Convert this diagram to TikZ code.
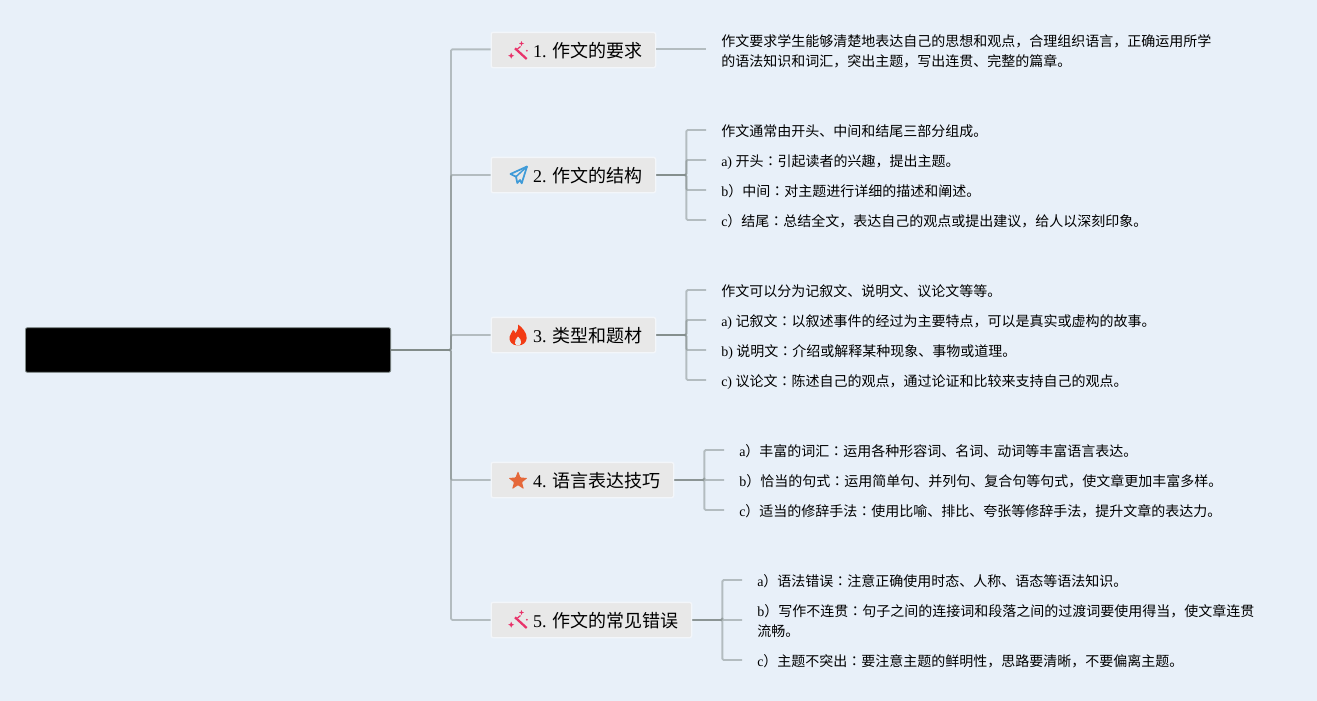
\documentclass[tikz,border=0pt]{standalone}
\usepackage{fontspec}
\setmainfont{Liberation Serif}
\newfontfamily\cjk{Noto Sans CJK SC}
\newfontfamily\cjktc{Noto Sans CJK TC}
\newcommand{\zh}[1]{{\cjk #1}}
\newcommand{\cln}{{\cjktc ：}}
\definecolor{bgblue}{HTML}{E8F0F9}
\definecolor{boxgray}{HTML}{E8E8E8}
\definecolor{boxedge}{HTML}{F3F6FA}
\definecolor{linegray}{HTML}{808A88}
\definecolor{wandpink}{HTML}{E8326A}
\definecolor{planeblue}{HTML}{3F9BD8}
\definecolor{flamered}{HTML}{F23B14}
\definecolor{starorange}{HTML}{E5683A}
\tikzset{x=.75pt,y=-.75pt,
root/.style={fill=black,draw=linegray,line width=.6pt,rounded corners=1.5pt,minimum width=274pt,minimum height=33.5pt,anchor=west,inner sep=0pt},
topic/.style={fill=boxgray,draw=boxedge,line width=1pt,rounded corners=1.5pt,minimum height=26.5pt,inner xsep=9.75pt,inner ysep=0pt,anchor=west,text height=11.6pt,text depth=0pt,font=\fontsize{13.5}{16}\selectfont},
leaf/.style={anchor=west,align=left,inner xsep=11.25pt,inner ysep=0pt,font=\fontsize{10.5}{15}\selectfont},
leafline/.style={leaf,text height=9.5pt,text depth=1pt},
branch/.style={draw=linegray,draw opacity=.5,line width=1.4pt,rounded corners=1pt},
wandicon/.pic={\draw[wandpink,line width=1.7pt] (-3,-2.7)--(8.7,8);\draw[wandpink,line width=.9pt] (2.5,-4.5)--(-.5,-2);
\fill[wandpink] (3.5,-10)--(4.2,-8.2)--(6,-7.5)--(4.2,-6.8)--(3.5,-5)--(2.8,-6.8)--(1,-7.5)--(2.8,-8.2)--cycle;\fill[wandpink] (8.8,-.3) circle(1);\fill[wandpink] (-6.8,1.7)--(-5.9,3.8)--(-3.8,4.7)--(-5.9,5.6)--(-6.8,7.7)--(-7.7,5.6)--(-9.8,4.7)--(-7.7,3.8)--cycle;},
planeicon/.pic={\draw[planeblue,line width=1.3pt,line join=round] (9,-8.5)--(-7.5,-1)--(-2,1.7)--(-.7,8)--(2,5)--(3.7,8.3)--cycle;\draw[planeblue,line width=1.1pt] (9,-8.5)--(-2,1.7);},
flameicon/.pic={\fill[flamered] (0,10.5) .. controls (-6,10.5) and (-9,6.5) .. (-8.5,2) .. controls (-8,-1) and (-6,-2) .. (-5,-5) .. controls (-3,-3.5) and (-2.5,-2.5) .. (-2.5,-1.5) .. controls (-1,-4) and (1,-7) .. (0,-10.5) .. controls (4,-8) and (9,-2) .. (8.7,3) .. controls (8.5,7.5) and (5,10.5) .. (0,10.5)--cycle;
\fill[boxgray] (0,10.5) .. controls (-3,10) and (-4,7) .. (-2.5,5) .. controls (-1.5,4) and (-.5,3) .. (0,1.5) .. controls (2,3.5) and (4,6) .. (3,8) .. controls (2.5,9.5) and (1.5,10.5) .. (0,10.5)--cycle;},
staricon/.pic={\fill[starorange,rounded corners=.6pt] (0,-10)--(2.5,-3.4)--(9.5,-3.1)--(4,1.3)--(5.9,8.1)--(0,4.2)--(-5.9,8.1)--(-4,1.3)--(-9.5,-3.1)--(-2.5,-3.4)--cycle;}}
\begin{document}
\begin{tikzpicture}
\useasboundingbox (0,0) rectangle (1317,700);\fill[bgblue] (-2,-2) rectangle (1319,702);
\node[root] (hub) at (25,350){};\coordinate (trunk) at (451,350);
\node[topic] (t1) at (490.5,50){\hspace{21.75pt}1. \zh{作文的要求}};
\node[topic] (t2) at (490.5,175){\hspace{21.75pt}2. \zh{作文的结构}};
\node[topic] (t3) at (490.5,335){\hspace{21.75pt}3. \zh{类型和题材}};
\node[topic] (t4) at (490.5,480){\hspace{21.75pt}4. \zh{语言表达技巧}};
\node[topic] (t5) at (490.5,620){\hspace{21.75pt}5. \zh{作文的常见错误}};
\draw[branch] (hub.east)--(trunk) |- ([yshift=.5pt]t1.west);
\foreach \t in {t2,t3,t4,t5}\draw[branch] (hub.east)--(trunk) |- (\t.west);
\path (t1.west) ++(27.5,1) pic{wandicon};\path (t2.west) ++(27.5,0) pic{planeicon};\path (t3.west) ++(27.5,0) pic{flameicon};\path (t4.west) ++(27.5,1) pic{staricon};\path (t5.west) ++(27.5,0) pic{wandicon};
\node[leaf] (t1a) at (706,51.5){\zh{作文要求学生能够清楚地表达自己的思想和观点，合理组织语言，正确运用所学}\\\zh{的语法知识和词汇，突出主题，写出连贯、完整的篇章。}};
\draw[branch] ([yshift=.5pt]t1.east)--([yshift=.5pt]t1.east -| t1a.west);
\node[leafline] (t2a) at (706,131){\zh{作文通常由开头、中间和结尾三部分组成。}};
\node[leafline] (t2b) at (706,161){a) \zh{开头}\cln\zh{引起读者的兴趣，提出主题。}};
\node[leafline] (t2c) at (706,191){b\zh{）中间}\cln\zh{对主题进行详细的描述和阐述。}};
\node[leafline] (t2d) at (706,221){c\zh{）结尾}\cln\zh{总结全文，表达自己的观点或提出建议，给人以深刻印象。}};
\foreach \l in {t2a,t2b,t2c,t2d}\draw[branch] (t2.east)--++(30,0) |- ([yshift=.75pt]\l.west);
\node[leafline] (t3a) at (706,291){\zh{作文可以分为记叙文、说明文、议论文等等。}};
\node[leafline] (t3b) at (706,321){a) \zh{记叙文}\cln\zh{以叙述事件的经过为主要特点，可以是真实或虚构的故事。}};
\node[leafline] (t3c) at (706,351){b) \zh{说明文}\cln\zh{介绍或解释某种现象、事物或道理。}};
\node[leafline] (t3d) at (706,381){c) \zh{议论文}\cln\zh{陈述自己的观点，通过论证和比较来支持自己的观点。}};
\foreach \l in {t3a,t3b,t3c,t3d}\draw[branch] (t3.east)--++(30,0) |- ([yshift=.75pt]\l.west);
\node[leafline] (t4a) at (724,451){a\zh{）丰富的词汇}\cln\zh{运用各种形容词、名词、动词等丰富语言表达。}};
\node[leafline] (t4b) at (724,481){b\zh{）恰当的句式}\cln\zh{运用简单句、并列句、复合句等句式，使文章更加丰富多样。}};
\node[leafline] (t4c) at (724,511){c\zh{）适当的修辞手法}\cln\zh{使用比喻、排比、夸张等修辞手法，提升文章的表达力。}};
\foreach \l in {t4a,t4b,t4c}\draw[branch] (t4.east)--++(30,0) |- ([yshift=.75pt]\l.west);
\node[leafline] (t5a) at (742,581){a\zh{）语法错误}\cln\zh{注意正确使用时态、人称、语态等语法知识。}};
\node[leaf] (t5b) at (742,621){b\zh{）写作不连贯}\cln\zh{句子之间的连接词和段落之间的过渡词要使用得当，使文章连贯}\\\zh{流畅。}};
\node[leafline] (t5c) at (742,661){c\zh{）主题不突出}\cln\zh{要注意主题的鲜明性，思路要清晰，不要偏离主题。}};
\foreach \l in {t5a,t5b,t5c}\draw[branch] (t5.east)--++(30,0) |- ([yshift=.75pt]\l.west);
\end{tikzpicture}
\end{document}
